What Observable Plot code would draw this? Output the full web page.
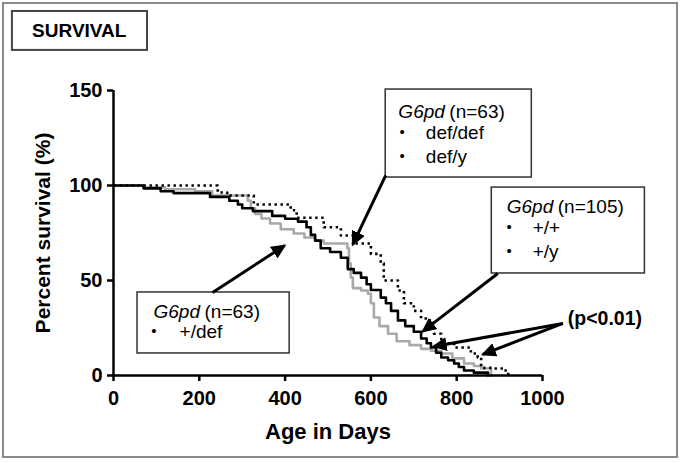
<!DOCTYPE html>
<html><head><meta charset="utf-8">
<script src="https://cdn.jsdelivr.net/npm/d3@7"></script>
<script src="https://cdn.jsdelivr.net/npm/@observablehq/plot@0.6"></script>
<style>
html,body{margin:0;padding:0;background:#fff;}
#wrap{position:relative;width:680px;height:463px;}
#frame{position:absolute;left:2px;top:2px;width:672px;height:452px;border:2px solid #8a8a8a;pointer-events:none;}
svg{display:block;}
</style></head><body><div id="wrap"><div id="chart"></div><div id="frame"></div></div>
<script>
// ---- data ----
const blackDays = [0,70,110,140,225,270,290,300,325,370,400,430,450,460,470,483,505,530,546,560,577,590,600,623,635,647,663,680,700,717,730,740,752,764,780,794,805,817,840,873];
const blackPct  = [100,98.5,97,96,94,92,90,88,86.5,84,82.5,81,78,74,71,67,65,62,56,54,51.5,48,45,41,38,34,29,26,23,19.5,17,14.7,12,9.5,8,6.3,4.5,2.6,1.5,0];

const grayDays = [0,70,120,190,230,313,320,330,345,365,390,420,445,470,490,545,549,553,558,577,593,600,607,620,640,660,690,717,740,764,790,817,840,857,880];
const grayPct  = [100,99,98,97,94.7,92,88,85,82.6,80,77,74.7,72.6,71,69.5,67,59,51.6,46,44.7,43,38,30.5,26,22,18,16,14,13,11.6,9,6.3,5,3.7,0];

const dotDays = [0,243,265,327,413,427,490,530,560,600,623,630,663,677,700,717,733,747,764,794,833,849,857,887,910,920];
const dotPct  = [100,96.3,94.7,90,87,83,78,73.7,69.5,64,59,50,44.7,38,34,30,29,22,17,14.7,11.6,9.5,4,3.7,2.6,0];

const xTicks = [0,200,400,600,800,1000];
const xTickLabels = ["0","200","400","600","800","1000"];
const yTicks = [0,50,100,150];
const yTickLabels = ["0","50","100","150"];

const legendHeaders = ["(n=63)","(n=105)","(n=63)"];
const legendItems1 = ["def/def","def/y"];
const legendItems2 = ["+/+","+/y"];
const legendItems3 = ["+/def"];

// ---- tables ----
const toRows = (ds, ps) => ds.map((d,i) => ({day:d, pct:ps[i]}));
const black = toRows(blackDays, blackPct);
const gray = toRows(grayDays, grayPct);
const dotted = toRows(dotDays, dotPct);

// annotation layout (data coordinates)
const boxes = [
  {x1:-235.6, x2:79.3, y1:171.1, y2:191.6, w:2, s:"#444"},
  {x1:634.5, x2:975.1, y1:104.2, y2:150.5, w:1.5, s:"#333"},
  {x1:881.8, x2:1238.7, y1:53.7, y2:98.9, w:1.5, s:"#333"},
  {x1:56, x2:410.6, y1:11.6, y2:43.7, w:1.5, s:"#333"}
];
const headerPos = [{x:664,y:138.9},{x:916.7,y:88.9},{x:93.3,y:33.7}];
const heads = headerPos.map((p,i)=>({...p, n:legendHeaders[i]}));
const items = [
  {bx:673, x:728, y:127.9, t:legendItems1[0]},
  {bx:673, x:728, y:115.3, t:legendItems1[1]},
  {bx:922, x:977, y:77.9, t:legendItems2[0]},
  {bx:922, x:977, y:65.3, t:legendItems2[1]},
  {bx:94, x:154, y:23.2, t:legendItems3[0]}
];
const arrows = [
  {x1:634.5,y1:105.3,x2:557.6,y2:68.9},
  {x1:895.8,y1:53.7,x2:720.9,y2:23.2},
  {x1:231,y1:43.7,x2:398.9,y2:68.4},
  {x1:1047.5,y1:27.4,x2:746.5,y2:15.3},
  {x1:1047.5,y1:27.4,x2:860.8,y2:11.1}
];

const FONT = "'Liberation Sans', Arial, Helvetica, sans-serif";

const chart = Plot.plot({
  width: 680, height: 463,
  marginLeft: 113, marginRight: 138, marginTop: 90, marginBottom: 88,
  x: {domain: [0,1000]},
  y: {domain: [0,150]},
  style: {fontFamily: FONT, background: "white", overflow: "visible", color: "black"},
  marks: [
    Plot.line(gray, {x:"day", y:"pct", curve:"step-after", stroke:"#a9a9a9", strokeWidth:2.6}),
    Plot.line(black, {x:"day", y:"pct", curve:"step-after", stroke:"black", strokeWidth:2.6}),
    Plot.line(dotted, {x:"day", y:"pct", curve:"step-after", stroke:"black", strokeWidth:2.6, strokeDasharray:"2.4,3.6", strokeLinecap:"butt"}),
    Plot.ruleX([{x:0,a:0,b:150}], {x:"x", y1:"a", y2:"b", strokeWidth:2.5}),
    Plot.ruleY([{y:0,a:0,b:1000}], {y:"y", x1:"a", x2:"b", strokeWidth:2.5}),
    Plot.axisX({ticks:xTicks, tickFormat:(d,i)=>xTickLabels[i], tickSize:6, tickPadding:9, fontSize:20, fontWeight:"bold", strokeWidth:2.5, label:null}),
    Plot.axisY({ticks:yTicks, tickFormat:(d,i)=>yTickLabels[i], tickSize:6, tickPadding:5, fontSize:20, fontWeight:"bold", strokeWidth:2.5, label:null}),
    Plot.text(["Percent survival (%)"], {frameAnchor:"left", dx:-70, rotate:-90, textAnchor:"middle", lineAnchor:"middle", fontSize:21, fontWeight:"bold"}),
    Plot.text(["Age in Days"], {frameAnchor:"bottom", dy:56, textAnchor:"middle", lineAnchor:"middle", fontSize:22, fontWeight:"bold"}),
    Plot.rect(boxes, {x1:"x1", x2:"x2", y1:"y1", y2:"y2", fill:"white", stroke:"s", strokeWidth:"w"}),
    Plot.text([{x:-79.8, y:181.4, t:"SURVIVAL"}], {x:"x", y:"y", text:"t", fontSize:19, fontWeight:"bold"}),
    Plot.text(heads, {x:"x", y:"y", text:()=>"G6pd", textAnchor:"start", fontSize:19, fontStyle:"italic"}),
    Plot.text(heads, {x:"x", y:"y", text:"n", dx:51, textAnchor:"start", fontSize:19}),
    Plot.text(items, {x:"bx", y:"y", text:()=>"•", fontSize:15}),
    Plot.text(items, {x:"x", y:"y", text:"t", textAnchor:"start", fontSize:19}),
    Plot.text([{x:1059, y:30, t:"(p<0.01)"}], {x:"x", y:"y", text:"t", textAnchor:"start", fontSize:19.5, fontWeight:"bold"}),
    Plot.link(arrows, {x1:"x1", y1:"y1", x2:"x2", y2:"y2", stroke:"black", strokeWidth:3, markerEnd:"arrow"})
  ]
});
document.getElementById("chart").appendChild(chart);

// filled arrowheads
const svg = d3.select(chart);
svg.append("defs").append("marker")
  .attr("id","ahead").attr("markerUnits","userSpaceOnUse")
  .attr("markerWidth",17).attr("markerHeight",15)
  .attr("refX",13).attr("refY",7).attr("orient","auto")
  .append("path").attr("d","M0,0 L15,7 L0,14 Z").attr("fill","black");
svg.selectAll("[marker-end]").attr("marker-end","url(#ahead)");
</script>
</body></html>
